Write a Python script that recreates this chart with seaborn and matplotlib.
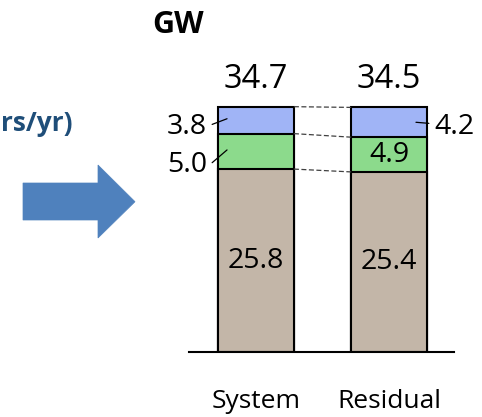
import matplotlib
matplotlib.use("Agg")
import matplotlib.pyplot as plt
import seaborn as sns
import pandas as pd
from matplotlib.patches import Polygon

# ---- data ----
categories = ["System", "Residual"]
base_vals = [25.8, 25.4]
mid_vals = [5.0, 4.9]
top_vals = [3.8, 4.2]
totals = [34.7, 34.5]
title_text = "GW"
unit_text = "rs/yr)"

BLUE = "#A0B4F6"
GREEN = "#8CDA8C"
TAN = "#C3B6A8"
ARROW = "#4F81BD"

W, H, DPI = 482, 417, 100
sns.set_style("white")
plt.rcParams["font.family"] = ["Open Sans", "DejaVu Sans"]
plt.rcParams["text.color"] = "black"
plt.rcParams["xtick.color"] = "black"

fig = plt.figure(figsize=(W / DPI, H / DPI), dpi=DPI)


def px(x, y):
    return (x / W, 1 - y / H)


ax = fig.add_axes([189 / W, (H - 352) / H, (454 - 189) / W, 283.6 / H])

df = pd.DataFrame({"cat": categories, "base": base_vals, "mid": mid_vals, "top": top_vals})
df["c2"] = df["base"] + df["mid"]
df["c3"] = df["c2"] + df["top"]

BW = 0.57
for col, color in [("c3", BLUE), ("c2", GREEN), ("base", TAN)]:
    sns.barplot(data=df, x="cat", y=col, color=color, saturation=1, width=BW,
                edgecolor="black", linewidth=1.5, errorbar=None, ax=ax)

ax.set_xlim(-0.504, 1.489)
ax.set_ylim(0, 40)
for s in ["left", "top", "right"]:
    ax.spines[s].set_visible(False)
ax.spines["bottom"].set_linewidth(1.5)
ax.spines["bottom"].set_color("black")
ax.set_yticks([])
ax.set_xlabel("")
ax.set_ylabel("")
ax.set_xticks([0, 1])
ax.set_xticklabels(categories, fontsize=19, color="black")
ax.tick_params(axis="x", length=0, pad=27)

# dashed connectors
for col in ["base", "c2", "c3"]:
    ax.plot([0 + BW / 2, 1 - BW / 2], [df[col][0], df[col][1]],
            ls=(0, (4, 2)), color="#404040", lw=0.9, clip_on=False)

# totals
for i, t in enumerate(totals):
    ax.text(i, df["c3"][i] + 3.9, f"{t:.1f}", ha="center", va="center", fontsize=23.5, clip_on=False)

# base labels
for i, v in enumerate(base_vals):
    ax.text(i, v / 2, f"{v:.1f}", ha="center", va="center", fontsize=20.5)

# System: mid and top labels on the left with leaders
y_top0 = df["c2"][0] + top_vals[0] / 2
y_mid0 = base_vals[0] + mid_vals[0] / 2
ax.plot([-0.33, -0.218], [y_top0 - 0.6, y_top0 + 0.2], color="black", lw=0.9, clip_on=False)
ax.text(-0.37, y_top0 - 1.0, f"{top_vals[0]:.1f}", ha="right", va="center", fontsize=20.5, clip_on=False)
ax.plot([-0.33, -0.218], [y_mid0 - 1.6, y_mid0 + 0.2], color="black", lw=0.9, clip_on=False)
ax.text(-0.37, y_mid0 - 1.9, f"{mid_vals[0]:.1f}", ha="right", va="center", fontsize=20.5, clip_on=False)

# Residual: mid label inside, top label right with leader
ax.text(1, base_vals[1] + mid_vals[1] / 2, f"{mid_vals[1]:.1f}", ha="center", va="center", fontsize=20.5)
y_top1 = df["c2"][1] + top_vals[1] / 2
ax.plot([1.203, 1.30], [y_top1, y_top1 - 0.15], color="black", lw=0.9, clip_on=False)
ax.text(1.34, y_top1 - 0.7, f"{top_vals[1]:.1f}", ha="left", va="center", fontsize=20.5, clip_on=False)

# title
fig.text(*px(152, 33), title_text, ha="left", va="baseline", fontsize=22, fontweight="bold", color="black")

# unit text
fig.text(*px(1, 131), unit_text, ha="left", va="baseline", fontsize=19, fontweight="bold", color="#1F4E79")

# arrow
pts = [(23, 183), (98, 183), (98, 165), (135, 201.7), (98, 238), (98, 220), (23, 220)]
fig.patches.append(Polygon([px(x, y) for x, y in pts], closed=True, transform=fig.transFigure,
                           facecolor=ARROW, edgecolor=ARROW, lw=0.5))

fig.savefig("out.png", dpi=DPI)
